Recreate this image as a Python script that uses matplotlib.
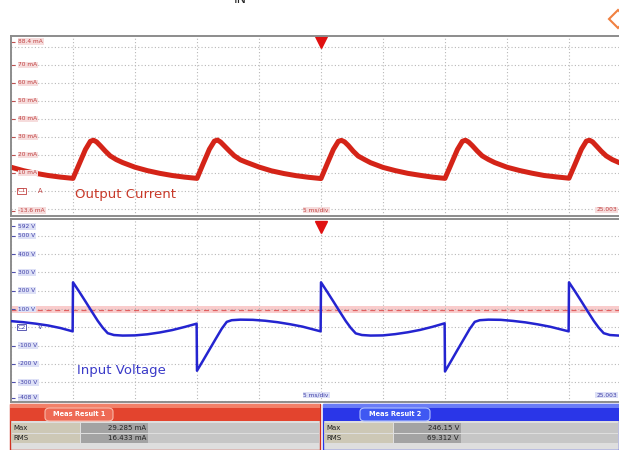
#!/usr/bin/env python3

import numpy as np
import matplotlib
matplotlib.use('Agg')
import matplotlib.pyplot as plt
from matplotlib.patches import Rectangle, FancyBboxPatch
from matplotlib.lines import Line2D

# time in ms (5 ms/div), output current in mA
t_cur = [0, 1, 2, 3, 4, 5,
         5.5, 6, 6.4, 6.65, 6.9, 7.2, 7.6, 8, 8.5, 9, 10, 11, 12, 13, 14, 15,
         15.5, 16, 16.4, 16.65, 16.9, 17.2, 17.6, 18, 18.5, 19, 20, 21, 22, 23, 24, 25,
         25.5, 26, 26.4, 26.65, 26.9, 27.2, 27.6, 28, 28.5, 29, 30, 31, 32, 33, 34, 35,
         35.5, 36, 36.4, 36.65, 36.9, 37.2, 37.6, 38, 38.5, 39, 40, 41, 42, 43, 44, 45,
         45.5, 46, 46.4, 46.65, 46.9, 47.2, 47.6, 48, 48.5, 49, 50]
i_out = [13.2, 11.3, 9.8, 8.6, 7.7, 7.0,
         15.0, 23.0, 27.6, 28.2, 27.3, 25.2, 22.2, 19.5, 17.4, 15.8, 13.2, 11.3, 9.8, 8.6, 7.7, 7.0,
         15.2, 23.2, 27.7, 28.3, 27.2, 25.1, 22.3, 19.6, 17.3, 15.9, 13.3, 11.2, 9.7, 8.5, 7.6, 6.9,
         15.1, 23.1, 27.6, 28.1, 27.3, 25.3, 22.1, 19.4, 17.5, 15.7, 13.1, 11.3, 9.8, 8.7, 7.7, 7.0,
         15.0, 23.0, 27.6, 28.2, 27.2, 25.2, 22.2, 19.5, 17.5, 15.8, 13.2, 11.4, 9.9, 8.6, 7.8, 7.1,
         15.1, 23.2, 27.7, 28.2, 27.3, 25.1, 22.1, 19.5, 17.4, 15.9, 13.2]

# input voltage in V
t_vin = [0, 1, 2, 3, 4, 4.97, 5.0, 5.5, 6, 6.5, 7, 7.4, 7.8, 8.3, 9, 10, 11, 12, 13, 14, 14.97,
         15.0, 15.5, 16, 16.5, 17, 17.4, 17.8, 18.5, 19.5, 20.5, 21.5, 22.5, 23.5, 24.97,
         25.0, 25.5, 26, 26.5, 27, 27.4, 27.8, 28.3, 29, 30, 31, 32, 33, 34, 34.97,
         35.0, 35.5, 36, 36.5, 37, 37.4, 37.8, 38.5, 39.5, 40.5, 41.5, 42.5, 43.5, 44.97,
         45.0, 45.5, 46, 46.5, 47, 47.4, 47.8, 48.3, 49, 50]
v_in = [34, 28, 20, 10, -4, -22, 246, 195, 142, 88, 35, -2, -32, -42, -45, -44, -38, -28, -15, 2, 20,
        -237, -180, -122, -64, -7, 30, 39, 42, 41, 36, 28, 17, 4, -22,
        246, 194, 141, 87, 34, -3, -33, -42, -45, -44, -37, -27, -14, 3, 22,
        -241, -183, -124, -66, -8, 30, 39, 42, 41, 35, 27, 16, 3, -22,
        246, 195, 142, 88, 35, -2, -32, -42, -45, -44]

cur_labels = [(83, '88.4 mA'), (70, '70 mA'), (60, '60 mA'), (50, '50 mA'), (40, '40 mA'),
              (30, '30 mA'), (20, '20 mA'), (10, '10 mA'), (-11, '-13.6 mA')]
volt_labels = [(552, '592 V'), (500, '500 V'), (400, '400 V'), (300, '300 V'), (200, '200 V'),
               (100, '100 V'), (-100, '-100 V'), (-200, '-200 V'), (-300, '-300 V'), (-385, '-408 V')]

meas1 = [('Max', '29.285 mA'), ('RMS', '16.433 mA')]
meas2 = [('Max', '246.15 V'), ('RMS', '69.312 V')]

W, H = 619, 450
RED = '#d42418'
BLUE = '#2424d0'


def px_box(x0, y0, x1, y1):
    return [x0 / W, 1 - y1 / H, (x1 - x0) / W, (y1 - y0) / H]


def px(x, y):
    return x / W, 1 - y / H


def rect(fig, x0, y0, x1, y1, color, **kw):
    fig.patches.append(Rectangle(px(x0, y1), (x1 - x0) / W, (y1 - y0) / H,
                                 transform=fig.transFigure, facecolor=color, **kw))


def style_axes(ax, ylim, yticks):
    ax.set_xlim(0, 50)
    ax.set_ylim(*ylim)
    ax.set_xticks(np.arange(0, 51, 5))
    ax.set_yticks(yticks)
    ax.tick_params(length=0, labelbottom=False, labelleft=False)
    ax.grid(True, ls=(0, (1, 2)), color='#b8b8b8', lw=0.8)
    for s in ax.spines.values():
        s.set_color('#8c8c8c')
        s.set_linewidth(1.4)


def main():
    fig = plt.figure(figsize=(W / 100, H / 100), dpi=100)

    fig.text(*px(240, 6), 'IN', fontsize=9, ha='center', va='bottom', color='#222222')
    fig.lines.append(Line2D([618 / W], [1 - 19 / H], marker='D', markersize=9,
                            mfc='white', mec='#f08040', mew=1.5, transform=fig.transFigure))

    # ---- output current panel
    ax1 = fig.add_axes(px_box(11, 36, 631, 216))
    style_axes(ax1, (-13.9, 86.1), np.arange(-10, 81, 10))
    ax1.plot(t_cur, i_out, color=RED, lw=3.6, solid_joinstyle='round')
    for v, s in cur_labels:
        ax1.hlines(v, 0, 0.3, color='#c05050', lw=0.8)
        ax1.text(0.6, v, s, fontsize=4.2, color='#c04040', va='center',
                 bbox=dict(fc='#f6dcdc', ec='none', pad=0.6))
    ax1.text(0.5, 0, 'C1', fontsize=4.5, color='#c04040', va='center',
             bbox=dict(fc='white', ec='#c04040', lw=0.6, pad=0.4))
    ax1.text(2.2, 0, 'A', fontsize=4.8, color='#c04040', va='center')
    ax1.text(5.2, -2.2, 'Output Current', fontsize=9.5, color='#c83a2a', va='center')
    ax1.text(24.6, -10.5, '5 ms/div', fontsize=4.2, color='#c04040', ha='center', va='center',
             bbox=dict(fc='#f6dcdc', ec='none', pad=0.6))
    ax1.text(48.85, -10.5, '25.003', fontsize=4.2, color='#c04040', ha='right', va='center',
             bbox=dict(fc='#f6dcdc', ec='none', pad=0.6))
    ax1.plot([25], [82.5], marker='v', color='#e01010', markersize=8, clip_on=False)

    # ---- input voltage panel
    ax2 = fig.add_axes(px_box(11, 219, 631, 402))
    style_axes(ax2, (-408, 592), np.arange(-400, 501, 100))
    ax2.axhspan(80, 114, color='#f9cccc', lw=0, zorder=1)
    ax2.axhline(97, color='#e06060', lw=0.9, ls=(0, (4, 3)), zorder=2)
    ax2.plot(t_vin, v_in, color=BLUE, lw=1.8, zorder=3)
    for v, s in volt_labels:
        ax2.hlines(v, 0, 0.3, color='#5050b0', lw=0.8)
        ax2.text(0.6, v, s, fontsize=4.2, color='#4040a8', va='center', zorder=4,
                 bbox=dict(fc='#dde0f6', ec='none', pad=0.6))
    ax2.text(0.5, 0, 'C2', fontsize=4.5, color='#4040a8', va='center', zorder=4,
             bbox=dict(fc='white', ec='#4040a8', lw=0.6, pad=0.4))
    ax2.text(2.2, 0, 'V', fontsize=4.8, color='#4040a8', va='center', zorder=4)
    ax2.text(5.3, -235, 'Input Voltage', fontsize=9.5, color='#3a3ac8', va='center')
    ax2.text(24.6, -370, '5 ms/div', fontsize=4.2, color='#4040a8', ha='center', va='center',
             bbox=dict(fc='#dde0f6', ec='none', pad=0.6))
    ax2.text(48.85, -370, '25.003', fontsize=4.2, color='#4040a8', ha='right', va='center',
             bbox=dict(fc='#dde0f6', ec='none', pad=0.6))
    ax2.plot([25], [550], marker='v', color='#e01010', markersize=8, clip_on=False)

    # ---- measurement result boxes
    boxes = [(10, 320, '#e3442e', '#f28068', '#ee6a55', '#f8b8a8', 45, 113,
              'Meas Result 1', meas1, '#d03020'),
             (323, 619, '#2a36e8', '#6a7cf6', '#3f58f2', '#b0c0ff', 360, 430,
              'Meas Result 2', meas2, '#2a36e8')]
    for x0, x1, head, light, tab, tabedge, tx0, tx1, title, rows, frame in boxes:
        rect(fig, x0, 404, x1, 450, '#dedede', edgecolor=frame, lw=1)
        rect(fig, x0, 404, x1, 421, head)
        rect(fig, x0, 404, x1, 408, light)
        fig.patches.append(FancyBboxPatch(px(tx0, 421), (tx1 - tx0) / W, 13 / H,
                                          boxstyle='round,pad=0,rounding_size=0.008',
                                          transform=fig.transFigure, fc=tab, ec=tabedge, lw=0.8))
        fig.text(*px((tx0 + tx1) / 2, 414.5), title, fontsize=4.8, color='white',
                 ha='center', va='center', fontweight='bold')
        for k, (name, val) in enumerate(rows):
            y0 = 423 + k * 10.5
            y1 = y0 + 9.5
            rect(fig, x0 + 1, y0, x0 + 70, y1, '#cdc8b6')
            rect(fig, x0 + 71, y0, x0 + 138, y1, '#a3a3a3')
            rect(fig, x0 + 138, y0, x1 - 1, y1, '#c6c6c6')
            fig.text(*px(x0 + 3, (y0 + y1) / 2), name, fontsize=5, color='#202020', va='center')
            fig.text(*px(x0 + 136, (y0 + y1) / 2), val, fontsize=5, color='#202020',
                     va='center', ha='right')

    plt.savefig('out.png', dpi=100)


if __name__ == '__main__':
    main()
